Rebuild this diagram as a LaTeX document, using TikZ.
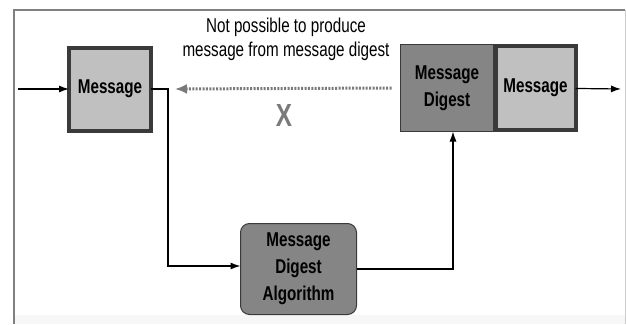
\documentclass[tikz,border=0pt]{standalone}
\usepackage{fontspec}
\setmainfont{Liberation Sans}
\newfontfamily\labfont{Liberation Sans}[FakeStretch=0.76]
\usetikzlibrary{arrows.meta}
\definecolor{lightbox}{HTML}{C0C0C0}
\definecolor{darkbox}{HTML}{858585}
\definecolor{edgedark}{HTML}{3A3A3A}
\definecolor{dotgray}{HTML}{7A7A7A}
\begin{document}
\begin{tikzpicture}[x=1pt,y=-1pt,
  lbl/.style={font=\labfont\bfseries\fontsize{20}{27}\selectfont, align=center, inner sep=0pt, outer sep=0pt},
  thickbox/.style={lbl, draw=edgedark, line width=4pt, fill=lightbox},
  thinbox/.style={lbl, draw=edgedark, line width=1pt, fill=darkbox},
  conn/.style={line width=1.2pt, -{Latex[length=10pt,width=7pt]}}]
\useasboundingbox (0,0) rectangle (626,324);
\fill[white] (0,0) rectangle (626,324);
\fill[gray!6] (14,315) rectangle (625,324);
\draw[gray, line width=1.5pt] (14,324) -- (14,10) -- (625,10);
\draw[gray!40, line width=1pt] (625,10) -- (625,324);

\node[thickbox, minimum width=82pt, minimum height=83pt] (msg1) at (110,89) {Message};
\node[thinbox, rounded corners=9pt, minimum width=116pt, minimum height=91pt] (alg) at (298.5,269) {Message\\Digest\\Algorithm};
\node[thinbox, minimum width=93pt, minimum height=87pt] (dig) at (447,88) {Message\\Digest};
\node[thickbox, minimum width=80pt, minimum height=84pt, anchor=west] (msg2) at ([xshift=2pt]dig.east) {Message};

\coordinate (in) at (18,89);
\coordinate (out) at (621,89);
\node[font=\labfont\fontsize{20}{24}\selectfont, align=center, inner sep=0pt] (note) at (286,39) {Not possible to produce\\message from message digest};
\node[font=\labfont\bfseries\fontsize{32}{32}\selectfont, text=dotgray, inner sep=0pt] (cross) at (284,115) {X};

\draw[conn] (in) -- (msg1);
\draw[conn] (msg2) -- (out);
\draw[conn] (msg1.east) -- ++(17,0) |- ([yshift=3pt]alg.west);
\draw[conn] (alg.east) -| ([xshift=6pt]dig.south);
\draw[dotgray, line width=3pt, dash pattern=on 2pt off 1.4pt, -{Latex[length=12pt,width=10pt]}]
  ([xshift=-9pt]dig.west) -- ([xshift=24pt]msg1.east);
\end{tikzpicture}
\end{document}
